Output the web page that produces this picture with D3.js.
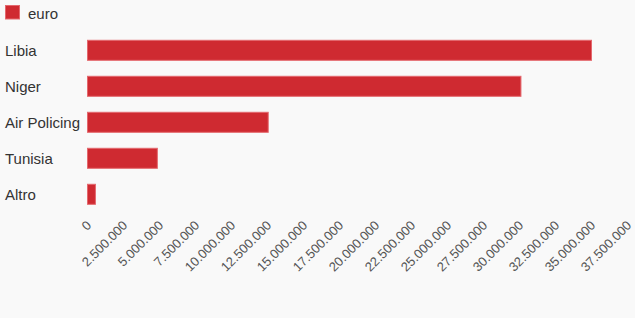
<!DOCTYPE html>
<html><head><meta charset="utf-8">
<script src="https://cdn.jsdelivr.net/npm/d3@7"></script>
<style>
html,body{margin:0;padding:0;background:#f9f9f9;}
text{font-family:"Liberation Sans",Arial,sans-serif;}
</style></head>
<body>
<svg id="chart" width="635" height="318"></svg>
<script>
const categories = ["Libia", "Niger", "Air Policing", "Tunisia", "Altro"];
const values = [35000000, 30100000, 12550000, 4850000, 550000];
const seriesName = "euro";
const tickValues = d3.range(0, 37500001, 2500000);

const svg = d3.select("#chart");
svg.append("rect").attr("width", 635).attr("height", 318).attr("fill", "#f9f9f9");

const x = d3.scaleLinear().domain([0, 37500000]).range([87.5, 627.5]);
const y = d3.scaleBand().domain(categories).range([32.3, 212.3]).paddingInner(0.444).paddingOuter(0.222);

const fmt = d => d3.format(",")(d).replace(/,/g, ".");

// legend
svg.append("rect").attr("x", 5.5).attr("y", 5.5).attr("width", 14).attr("height", 13.5)
  .attr("fill", "#cf2a31").attr("stroke", "#e4686e").attr("stroke-width", 1);
svg.append("text").attr("x", 28).attr("y", 19).attr("font-size", 15).attr("fill", "#333").text(seriesName);

// bars
svg.selectAll("rect.bar").data(categories).join("rect").attr("class", "bar")
  .attr("x", x(0)).attr("y", d => y(d))
  .attr("width", (d, i) => x(values[i]) - x(0)).attr("height", y.bandwidth())
  .attr("fill", "#cf2a31").attr("stroke", "#e4686e").attr("stroke-width", 1);

// category labels
const yAxis = svg.append("g").attr("transform", "translate(5,0)");
yAxis.selectAll("text").data(categories).join("text")
  .attr("x", 0).attr("y", d => y(d) + y.bandwidth() / 2).attr("dy", "0.36em")
  .attr("font-size", 15).attr("fill", "#333").text(d => d);

// x axis labels
const xAxis = svg.append("g").attr("transform", "translate(0,223)")
  .call(d3.axisBottom(x).tickValues(tickValues).tickFormat(fmt).tickSize(0));
xAxis.select(".domain").remove();
xAxis.selectAll("text")
  .attr("font-size", 13).attr("fill", "#555")
  .attr("text-anchor", "end").attr("dy", "0.35em").attr("y", 0).attr("x", 0)
  .attr("transform", "translate(1,0) rotate(-45)");
</script>
</body></html>
